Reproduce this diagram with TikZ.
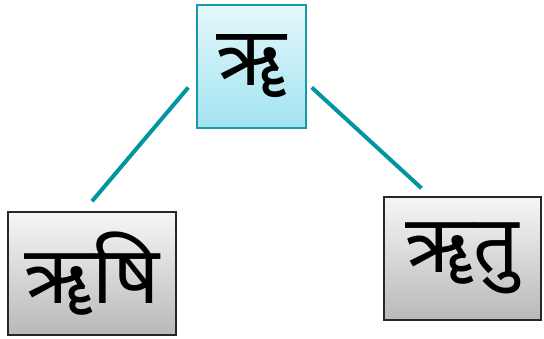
\documentclass[tikz,border=0pt]{standalone}
\usepackage{fontspec}
\newfontfamily\devafont[Script=Devanagari]{Noto Sans}
\usetikzlibrary{positioning}
\definecolor{tealline}{RGB}{0,150,160}
\definecolor{tealedge}{RGB}{24,154,166}
\definecolor{cyantop}{RGB}{230,248,252}
\definecolor{cyanbot}{RGB}{160,227,240}
\definecolor{greytop}{RGB}{246,246,246}
\definecolor{greybot}{RGB}{185,185,185}
\definecolor{greyedge}{RGB}{40,40,40}

\begin{document}
\begin{tikzpicture}[
    x=1pt, y=1pt,
    root/.style={
        draw=tealedge, line width=1.5pt,
        top color=cyantop, bottom color=cyanbot,
        minimum width=109pt, minimum height=123pt,
        inner sep=0pt,
        font=\devafont\bfseries\fontsize{82}{84}\selectfont
    },
    word/.style={
        draw=greyedge, line width=1.5pt,
        top color=greytop, bottom color=greybot,
        minimum height=123pt,
        inner sep=0pt,
        font=\devafont\bfseries\fontsize{80}{82}\selectfont
    },
    link/.style={draw=tealline, line width=4pt}
]
\useasboundingbox (0,0) rectangle (544,339);

\node[root] (vowel) at (251.5,272.5) {ॠ};
\node[word, minimum width=168pt] (rishi) at (92,65.5) {ॠषि};
\node[word, minimum width=157pt] (ritu) at (462.5,80.5) {ॠतु};

\draw[link] ([shift={(-8pt,-21pt)}]vowel.west) -- ([yshift=10pt]rishi.north);
\draw[link] ([shift={(5pt,-21pt)}]vowel.east) -- ([shift={(-41pt,8pt)}]ritu.north);
\end{tikzpicture}
\end{document}
